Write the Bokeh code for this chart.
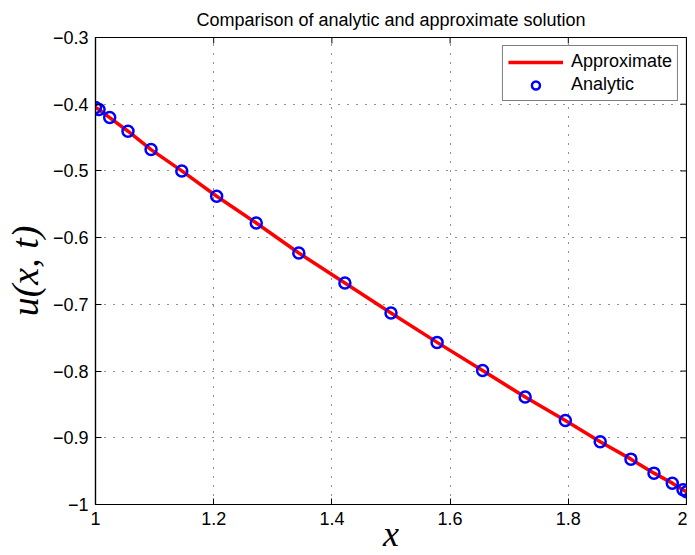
import math
from bokeh.plotting import figure
from bokeh.models import LinearAxis, FixedTicker, Legend, LegendItem, ColumnDataSource
from bokeh.embed import file_html
from bokeh.resources import INLINE

# data
x_vals = [1.0, 1.006, 1.024, 1.055, 1.094, 1.146, 1.205, 1.272, 1.344, 1.422, 1.5,
          1.578, 1.655, 1.727, 1.795, 1.854, 1.906, 1.945, 1.976, 1.994, 2.0]
approx_vals = [-0.405, -0.408, -0.420, -0.4405, -0.468, -0.500, -0.538, -0.578, -0.623, -0.668, -0.713,
               -0.757, -0.799, -0.839, -0.874, -0.906, -0.932, -0.953, -0.968, -0.978, -0.981]
analytic_vals = [-0.405, -0.408, -0.420, -0.4405, -0.468, -0.500, -0.538, -0.578, -0.623, -0.668, -0.713,
                 -0.757, -0.799, -0.839, -0.874, -0.906, -0.932, -0.953, -0.968, -0.978, -0.981]
x_ticks = [1.0, 1.2, 1.4, 1.6, 1.8, 2.0]
x_tick_labels = ["1", "1.2", "1.4", "1.6", "1.8", "2"]
y_ticks = [-1.0, -0.9, -0.8, -0.7, -0.6, -0.5, -0.4, -0.3]
y_tick_labels = ["\u22121", "\u22120.9", "\u22120.8", "\u22120.7", "\u22120.6", "\u22120.5", "\u22120.4", "\u22120.3"]
x_start, x_end = 1.0, 2.0
y_start, y_end = -1.0, -0.3

FONT = "Liberation Sans"
FS = "18px"

p = figure(frame_width=591, frame_height=467, x_range=(x_start, x_end), y_range=(y_start, y_end),
           output_backend="svg", toolbar_location=None,
           x_axis_location=None, y_axis_location=None,
           min_border_left=0, min_border_top=0, min_border_right=1, min_border_bottom=0,
           title="Comparison of analytic and approximate solution")
p.title.align = "center"
p.title.text_font = FONT
p.title.text_font_size = FS
p.title.text_font_style = "normal"
p.title.text_color = "black"
p.title.standoff = 15
p.outline_line_color = "black"
p.outline_line_width = 1.2
p.background_fill_color = "white"
p.border_fill_color = "white"

xt = FixedTicker(ticks=x_ticks, minor_ticks=[])
yt = FixedTicker(ticks=y_ticks, minor_ticks=[])


def make_axis(ticker, labels, ticks, label, label_standoff, label_size):
    ax = LinearAxis(ticker=ticker)
    ax.major_tick_in = 6
    ax.major_tick_out = 0
    ax.minor_tick_in = 0
    ax.minor_tick_out = 0
    ax.axis_line_color = "black"
    ax.axis_line_width = 1.2
    ax.major_tick_line_color = "black"
    ax.major_tick_line_width = 1
    ax.major_label_text_font = FONT
    ax.major_label_text_font_size = FS
    ax.major_label_text_color = "black"
    ax.major_label_overrides = {t: l for t, l in zip(ticks, labels)}
    ax.major_label_standoff = 7
    ax.axis_label = label
    ax.axis_label_text_font = "Liberation Serif"
    ax.axis_label_text_font_style = "italic"
    ax.axis_label_text_font_size = label_size
    ax.axis_label_text_color = "black"
    ax.axis_label_standoff = label_standoff
    return ax


p.add_layout(make_axis(xt, x_tick_labels, x_ticks, "x", -14, "36px"), "below")
p.add_layout(make_axis(yt, y_tick_labels, y_ticks, "u(x, t)", 4, "38px"), "left")

p.xgrid.ticker = xt
p.ygrid.ticker = yt
for g in (p.xgrid, p.ygrid):
    g.grid_line_color = "#222222"
    g.grid_line_dash = "1 8"
    g.grid_line_width = 1

# inward ticks on the top and right box edges (half of each dash is clipped by the frame)
p.scatter(x=x_ticks, y=[y_end] * len(x_ticks), marker="dash", angle=math.pi / 2, size=12,
          line_color="black", line_width=1)
p.scatter(x=[x_end] * len(y_ticks), y=y_ticks, marker="dash", size=12,
          line_color="black", line_width=1)

src = ColumnDataSource(dict(x=x_vals, approx=approx_vals, analytic=analytic_vals))
r_line = p.line("x", "approx", source=src, line_color="#ff0000", line_width=3.5)
r_pts = p.scatter("x", "analytic", source=src, marker="circle", size=11,
                  fill_color=None, line_color="#0000ff", line_width=2.5)

legend = Legend(items=[LegendItem(label="Approximate", renderers=[r_line]),
                       LegendItem(label="Analytic", renderers=[r_pts])],
                location="top_right")
legend.margin = 8
legend.padding = 5
legend.spacing = 2
legend.glyph_width = 55
legend.glyph_height = 20
legend.label_height = 20
legend.label_standoff = 8
legend.label_text_font = FONT
legend.label_text_font_size = FS
legend.label_text_color = "black"
legend.border_line_color = "black"
legend.border_line_width = 1
legend.background_fill_alpha = 1
p.add_layout(legend, "center")

open("out.html", "w").write(file_html(p, INLINE))
